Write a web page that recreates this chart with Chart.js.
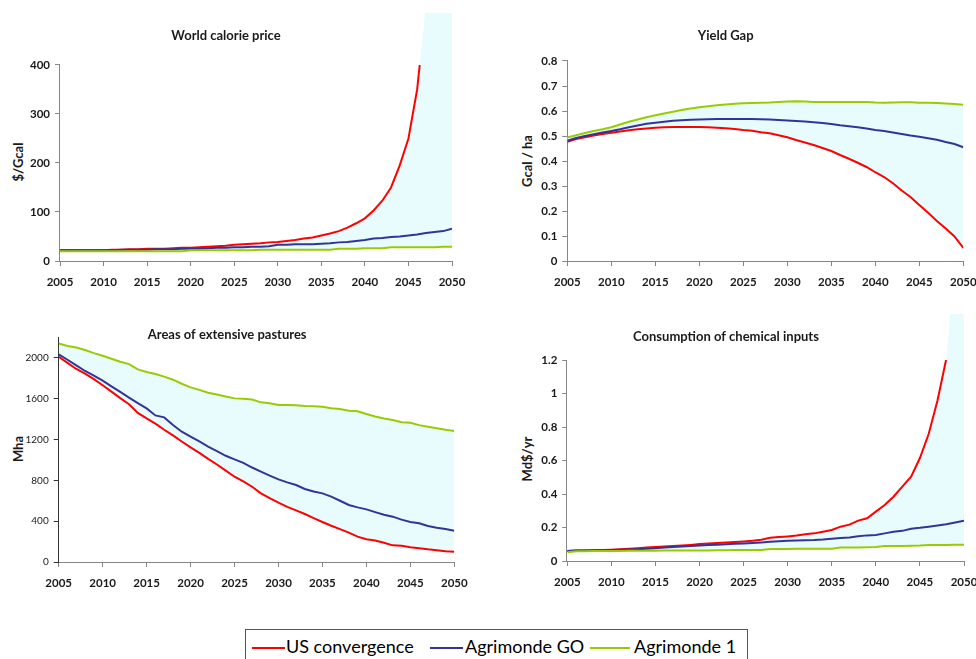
<!DOCTYPE html>
<html>
<head>
<meta charset="utf-8">
<script src="https://cdn.jsdelivr.net/npm/chart.js@4.4.1/dist/chart.umd.min.js"></script>
<style>
  html, body { margin: 0; padding: 0; width: 976px; height: 659px; overflow: hidden; background: #fff; }
  canvas { position: absolute; }
  .ytitle { position: absolute; transform: translate(-50%, -50%) rotate(-90deg); font: bold 13px Lato, sans-serif; color: #1a1a1a; white-space: nowrap; }
  #legend { position: absolute; left: 245px; top: 629px; width: 503px; height: 40px; border: 1px solid #555; box-sizing: border-box; background: #fff; }
  .sw { position: absolute; height: 2px; top: 17px; }
  .lt { position: absolute; top: 6px; font: 18px Lato, sans-serif; line-height: 20px; color: #000; white-space: nowrap; }
</style>
</head>
<body>
<div class="ytitle" style="left:18px; top:162px;">$/Gcal</div>
<div class="ytitle" style="left:527px; top:161px;">Gcal / ha</div>
<div class="ytitle" style="left:18px; top:449px;">Mha</div>
<div class="ytitle" style="left:527px; top:459px;">Md$/yr</div>
<div id="legend">
  <div class="sw" style="left:6px; width:33px; background:#ff0000;"></div>
  <div class="lt" style="left:40px;">US convergence</div>
  <div class="sw" style="left:184px; width:33px; background:#333399;"></div>
  <div class="lt" style="left:219px;">Agrimonde GO</div>
  <div class="sw" style="left:344px; width:40px; background:#99cc00;"></div>
  <div class="lt" style="left:388px;">Agrimonde 1</div>
</div>
<script>
// Years on the horizontal axis
const years = [2005, 2006, 2007, 2008, 2009, 2010, 2011, 2012, 2013, 2014,
               2015, 2016, 2017, 2018, 2019, 2020, 2021, 2022, 2023, 2024,
               2025, 2026, 2027, 2028, 2029, 2030, 2031, 2032, 2033, 2034,
               2035, 2036, 2037, 2038, 2039, 2040, 2041, 2042, 2043, 2044,
               2045, 2046, 2047, 2048, 2049, 2050];
const yearTicks = [2005, 2010, 2015, 2020, 2025, 2030, 2035, 2040, 2045, 2050];
const seriesNames = ['US convergence', 'Agrimonde GO', 'Agrimonde 1'];

// World calorie price ($/Gcal)
const calorieUS = [22, 22, 22, 22, 22, 22, 23, 23, 24, 24,
                   25, 25, 25, 26, 27, 27, 28, 29, 30, 31,
                   33, 34, 35, 36, 38, 39, 41, 43, 46, 48,
                   52, 56, 61, 68, 77, 87, 103, 123, 150, 195,
                   250, 350, 520, 800, 1200, 1800];
const calorieGO = [22, 22, 22, 22, 22, 22, 22, 23, 23, 23,
                   23, 24, 24, 24, 25, 25, 25, 26, 27, 27,
                   28, 28, 29, 29, 30, 33, 33, 34, 34, 34,
                   35, 36, 38, 39, 41, 43, 46, 47, 49, 50,
                   52, 54, 57, 59, 61, 66];
const calorie1 = [20, 20, 20, 20, 20, 20, 20, 20, 20, 20,
                  20, 20, 20, 20, 20, 22, 22, 22, 22, 22,
                  22, 22, 22, 23, 23, 23, 23, 23, 23, 23,
                  23, 23, 25, 25, 25, 26, 26, 26, 28, 28,
                  28, 28, 28, 28, 29, 29];
const calorieTicks = [0, 100, 200, 300, 400];

// Yield gap (Gcal / ha)
const yieldUS = [0.477, 0.488, 0.495, 0.502, 0.508, 0.513, 0.518, 0.523, 0.527, 0.530,
                 0.533, 0.535, 0.536, 0.536, 0.536, 0.536, 0.535, 0.533, 0.531, 0.528,
                 0.524, 0.521, 0.515, 0.511, 0.503, 0.495, 0.484, 0.474, 0.464, 0.452,
                 0.440, 0.424, 0.409, 0.393, 0.376, 0.355, 0.336, 0.311, 0.282, 0.256,
                 0.224, 0.193, 0.160, 0.130, 0.098, 0.052];
const yieldGO = [0.481, 0.492, 0.500, 0.507, 0.514, 0.520, 0.527, 0.535, 0.542, 0.549,
                 0.553, 0.557, 0.561, 0.563, 0.565, 0.566, 0.567, 0.568, 0.568, 0.568,
                 0.568, 0.568, 0.567, 0.566, 0.564, 0.562, 0.560, 0.558, 0.555, 0.552,
                 0.548, 0.543, 0.539, 0.535, 0.530, 0.524, 0.520, 0.514, 0.508, 0.502,
                 0.497, 0.491, 0.485, 0.476, 0.468, 0.455];
const yield1 = [0.494, 0.503, 0.512, 0.520, 0.527, 0.535, 0.546, 0.557, 0.566, 0.575,
                0.583, 0.590, 0.597, 0.604, 0.610, 0.615, 0.619, 0.623, 0.626, 0.629,
                0.631, 0.632, 0.633, 0.634, 0.636, 0.638, 0.639, 0.638, 0.636, 0.636,
                0.636, 0.636, 0.636, 0.636, 0.636, 0.634, 0.633, 0.634, 0.635, 0.635,
                0.633, 0.633, 0.632, 0.630, 0.628, 0.625];
const yieldTicks = [0, 0.1, 0.2, 0.3, 0.4, 0.5, 0.6, 0.7, 0.8];

// Areas of extensive pastures (Mha)
const pastureUS = [2010, 1950, 1890, 1845, 1790, 1730, 1668, 1605, 1545, 1460,
                   1406, 1355, 1295, 1240, 1180, 1122, 1068, 1010, 955, 895,
                   835, 790, 737, 672, 625, 581, 540, 505, 470, 430,
                   392, 355, 322, 287, 248, 222, 210, 189, 163, 158,
                   144, 135, 124, 116, 106, 101];
const pastureGO = [2033, 1980, 1925, 1870, 1825, 1775, 1720, 1665, 1610, 1555,
                   1504, 1435, 1416, 1341, 1276, 1227, 1180, 1129, 1085, 1040,
                   1005, 970, 925, 884, 845, 809, 780, 754, 715, 690,
                   672, 640, 600, 558, 535, 515, 488, 463, 444, 415,
                   392, 380, 352, 335, 323, 307];
const pasture1 = [2140, 2115, 2100, 2075, 2045, 2020, 1990, 1960, 1938, 1886,
                  1860, 1840, 1815, 1785, 1745, 1710, 1685, 1657, 1640, 1620,
                  1602, 1598, 1590, 1563, 1555, 1537, 1537, 1535, 1528, 1526,
                  1520, 1505, 1498, 1480, 1475, 1449, 1425, 1405, 1390, 1368,
                  1364, 1340, 1325, 1310, 1295, 1282];
const pastureTicks = [0, 400, 800, 1200, 1600, 2000];

// Consumption of chemical inputs (Md$/yr)
const chemUS = [0.060, 0.062, 0.063, 0.064, 0.065, 0.067, 0.070, 0.073, 0.076, 0.080,
                0.083, 0.086, 0.089, 0.092, 0.096, 0.101, 0.104, 0.107, 0.110, 0.113,
                0.117, 0.121, 0.127, 0.139, 0.143, 0.147, 0.152, 0.160, 0.165, 0.175,
                0.185, 0.205, 0.217, 0.241, 0.255, 0.295, 0.334, 0.384, 0.444, 0.503,
                0.615, 0.760, 0.960, 1.21, 1.87, 2.90];
const chemGO = [0.060, 0.062, 0.063, 0.064, 0.065, 0.066, 0.067, 0.068, 0.070, 0.073,
                0.076, 0.080, 0.083, 0.086, 0.089, 0.092, 0.095, 0.097, 0.100, 0.103,
                0.105, 0.108, 0.111, 0.115, 0.118, 0.121, 0.122, 0.124, 0.125, 0.128,
                0.133, 0.137, 0.140, 0.148, 0.153, 0.155, 0.165, 0.175, 0.180, 0.193,
                0.198, 0.205, 0.212, 0.220, 0.230, 0.241];
const chem1 = [0.052, 0.058, 0.058, 0.059, 0.060, 0.060, 0.060, 0.061, 0.061, 0.061,
               0.061, 0.062, 0.062, 0.062, 0.062, 0.063, 0.063, 0.064, 0.064, 0.065,
               0.065, 0.066, 0.066, 0.072, 0.072, 0.072, 0.073, 0.073, 0.073, 0.073,
               0.073, 0.080, 0.080, 0.080, 0.082, 0.083, 0.090, 0.090, 0.090, 0.091,
               0.092, 0.095, 0.096, 0.096, 0.097, 0.097];
const chemTicks = [0, 0.2, 0.4, 0.6, 0.8, 1, 1.2];

const RED = '#ff0000';
const BLUE = '#333399';
const GREEN = '#99cc00';
const BAND = 'rgb(233, 252, 253)';
const AXIS = '#868686';
const FONT = 'Lato, sans-serif';

// Left axis line that stops at the highest labelled tick, for charts whose
// shaded range keeps going above it.
const partialYAxis = {
  id: 'partialYAxis',
  beforeDatasetsDraw(chart, args, opts) {
    const y = chart.scales.y;
    const ctx = chart.ctx;
    const px = Math.round(y.right) - 0.5;
    ctx.save();
    ctx.strokeStyle = opts.color;
    ctx.lineWidth = 1;
    ctx.beginPath();
    ctx.moveTo(px, y.getPixelForValue(0));
    ctx.lineTo(px, y.getPixelForValue(opts.upTo));
    ctx.stroke();
    ctx.restore();
  }
};

function makePanel(p) {
  const cv = document.createElement('canvas');
  cv.width = p.w;
  cv.height = p.h;
  cv.style.left = p.left + 'px';
  cv.style.top = p.top + 'px';
  document.body.appendChild(cv);

  const pts = arr => years.map((yr, i) => ({ x: yr, y: arr[i] }));
  const line = (label, arr, color, order) => ({
    label, data: pts(arr), borderColor: color, borderWidth: 2,
    pointRadius: 0, tension: 0, fill: false, order
  });
  const usLine = line(seriesNames[0], p.us, RED, 2);
  if (p.usClipTop !== undefined) {
    usLine.clip = { left: 1, right: 1, top: p.usClipTop, bottom: 1 };
  }
  const datasets = [
    line(seriesNames[2], p.a1, GREEN, 0),
    line(seriesNames[1], p.go, BLUE, 1),
    usLine,
    {
      label: 'range', data: pts(p.us), borderColor: 'rgba(0,0,0,0)', borderWidth: 0,
      pointRadius: 0, tension: 0, backgroundColor: BAND, fill: { target: 0 }, order: 3
    }
  ];

  const tickFont = { family: FONT, size: 11.5, weight: 'bold' };
  const plugins = [];
  if (p.partialAxisTo !== undefined) plugins.push(partialYAxis);

  new Chart(cv, {
    type: 'line',
    data: { datasets },
    plugins,
    options: {
      responsive: false,
      animation: false,
      events: [],
      layout: { padding: { left: 0, top: 0, right: p.padRight, bottom: 0 } },
      plugins: {
        legend: { display: false },
        tooltip: { enabled: false },
        title: {
          display: true, text: p.title, color: '#1a1a1a',
          font: { family: FONT, size: 13, weight: 'bold', lineHeight: 1.2 },
          padding: { top: p.titleY - 7.8, bottom: p.areaTop - (p.titleY - 7.8) - 15.6 }
        },
        partialYAxis: { color: p.yAxisColor || AXIS, upTo: p.partialAxisTo }
      },
      scales: {
        x: {
          type: 'linear', min: 2005, max: 2050,
          afterBuildTicks: s => { s.ticks = yearTicks.map(v => ({ value: v })); },
          afterFit: s => {
            s.height = p.h - p.areaBottom;
            s.paddingLeft = 0; s.paddingRight = 0; s.paddingTop = 0; s.paddingBottom = 0;
          },
          ticks: {
            callback: v => String(v), font: tickFont, color: '#1a1a1a',
            padding: 9, maxRotation: 0, autoSkip: false
          },
          grid: { display: true, drawOnChartArea: false, tickLength: 5, color: AXIS },
          border: { display: true, color: AXIS, width: 1 }
        },
        y: {
          type: 'linear', min: 0, max: p.yMax,
          afterBuildTicks: s => { s.ticks = p.yTicks.map(v => ({ value: v })); },
          afterFit: s => {
            s.width = p.areaLeft;
            s.paddingLeft = 0; s.paddingRight = 0; s.paddingTop = 0; s.paddingBottom = 0;
          },
          ticks: {
            callback: v => String(v),
            font: { family: FONT, size: p.yTickSize || 11.5, weight: p.yTickWeight || 'bold' },
            color: '#1a1a1a', padding: 5
          },
          grid: { display: true, drawOnChartArea: false, tickLength: 5, color: p.yAxisColor || AXIS },
          border: { display: p.partialAxisTo === undefined, color: p.yAxisColor || AXIS, width: 1 }
        }
      }
    }
  });
}

makePanel({
  title: 'World calorie price', left: 0, top: 0, w: 488, h: 300,
  areaLeft: 60, padRight: 36, areaTop: 13, areaBottom: 261, titleY: 36,
  yMax: 506, yTicks: calorieTicks, partialAxisTo: 400, usClipTop: -52,
  us: calorieUS, go: calorieGO, a1: calorie1
});
makePanel({
  title: 'Yield Gap', left: 488, top: 0, w: 524, h: 300,
  areaLeft: 79.3, padRight: 48.7, areaTop: 61, areaBottom: 261, titleY: 36,
  yMax: 0.8, yTicks: yieldTicks,
  us: yieldUS, go: yieldGO, a1: yield1
});
makePanel({
  title: 'Areas of extensive pastures', left: 0, top: 300, w: 476, h: 300,
  areaLeft: 58.7, padRight: 21.7, areaTop: 37.3, areaBottom: 262, titleY: 35,
  yMax: 2200, yTicks: pastureTicks, yTickWeight: 'normal', yTickSize: 10, yAxisColor: '#333',
  us: pastureUS, go: pastureGO, a1: pasture1
});
makePanel({
  title: 'Consumption of chemical inputs', left: 488, top: 300, w: 524, h: 300,
  areaLeft: 79.3, padRight: 48, areaTop: 14, areaBottom: 261, titleY: 37,
  yMax: 1.475, yTicks: chemTicks, partialAxisTo: 1.2, usClipTop: -46,
  us: chemUS, go: chemGO, a1: chem1
});
</script>
</body>
</html>
